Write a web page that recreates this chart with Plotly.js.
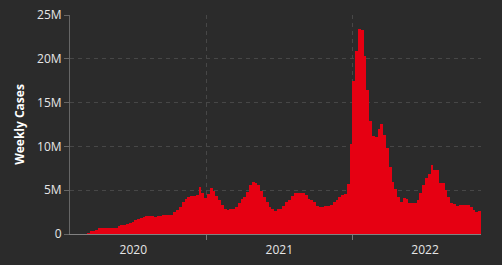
<!DOCTYPE html>
<html>
<head>
<meta charset="utf-8">
<script src="https://cdn.plot.ly/plotly-3.0.1.min.js"></script>
<style>
html,body{margin:0;padding:0;background:#2b2b2b;}
#chart{width:502px;height:265px;}
</style>
</head>
<body>
<div id="chart"></div>
<script>
// Weekly cases in millions, one value per week starting 2020-01-29
const firstWeek = "2020-01-29";
const weeklyCasesM = [
  0.01,0.02,0.03,0.02,0.05,0.05,0.1,0.3,0.3,0.5,
  0.7,0.72,0.72,0.72,0.72,0.72,0.73,0.87,0.98,1.0,
  1.1,1.3,1.38,1.55,1.7,1.8,1.93,2.0,2.0,2.0,
  1.93,2.0,2.08,2.15,2.15,2.2,2.2,2.55,2.7,3.1,
  3.7,4.0,4.25,4.35,4.3,4.45,5.35,4.7,4.1,4.6,
  5.2,4.9,4.35,3.85,3.3,2.85,2.7,2.85,2.85,3.1,
  3.5,4.0,4.25,4.8,5.55,5.95,5.8,5.6,4.95,4.25,
  3.6,3.1,2.8,2.65,2.8,2.8,3.25,3.7,3.9,4.35,
  4.65,4.7,4.7,4.7,4.5,4.0,3.85,3.65,3.25,3.1,
  3.05,3.15,3.25,3.35,3.65,3.9,4.2,4.45,4.6,5.75,
  10.3,17.5,20.9,23.4,23.3,20.35,16.45,12.9,11.2,11.05,
  12.0,12.6,11.3,9.85,7.7,5.95,5.15,4.25,3.7,4.15,
  4.0,3.5,3.5,3.55,3.9,4.7,5.6,6.4,6.9,7.9,
  7.35,7.35,5.85,5.85,5.05,4.25,3.55,3.45,3.2,3.35,
  3.35,3.35,3.35,3.1,2.75,2.55,2.65
];
const yTickVals = [0, 5e6, 10e6, 15e6, 20e6, 25e6];
const yTickText = ["0", "5M", "10M", "15M", "20M", "25M"];
const yTitle = "Weekly Cases";

const start = new Date(firstWeek + "T00:00:00Z").getTime();
const weeks = weeklyCasesM.map((_, i) => {
  const d = new Date(start + i * 7 * 86400000);
  return d.toISOString().slice(0, 10);
});

const trace = {
  type: "bar",
  x: weeks,
  y: weeklyCasesM.map(v => v * 1e6),
  marker: { color: "#e60012", line: { width: 0 } },
  hoverinfo: "x+y"
};

const fontFam = "'Open Sans', 'Segoe UI', sans-serif";
const layout = {
  width: 502,
  height: 265,
  margin: { l: 70, r: 21, t: 15, b: 31 },
  paper_bgcolor: "#2b2b2b",
  plot_bgcolor: "#2b2b2b",
  bargap: 0,
  showlegend: false,
  font: { family: fontFam, color: "#e6e6e6", size: 12 },
  xaxis: {
    type: "date",
    tick0: "2020-01-01",
    dtick: "M12",
    tickformat: "%Y",
    ticklabelmode: "period",
    showgrid: true,
    gridcolor: "#474747",
    griddash: "4px,4px",
    gridwidth: 1,
    ticks: "outside",
    ticklen: 5,
    tickcolor: "#777777",
    showline: true,
    linecolor: "rgba(200,200,200,0.55)",
    linewidth: 1,
    zeroline: false,
    tickfont: { family: fontFam, color: "#e6e6e6", size: 12 }
  },
  yaxis: {
    range: [0, 25e6],
    tickvals: yTickVals,
    ticktext: yTickText,
    showgrid: true,
    gridcolor: "#474747",
    griddash: "4px,4px",
    gridwidth: 1,
    ticks: "outside",
    ticklen: 5,
    tickcolor: "#666666",
    showline: true,
    linecolor: "#666666",
    linewidth: 1,
    zeroline: false,
    tickfont: { family: fontFam, color: "#e6e6e6", size: 12 },
    title: { text: yTitle, font: { family: fontFam, color: "#ffffff", size: 12, weight: "bold" }, standoff: 9 }
  }
};

Plotly.newPlot("chart", [trace], layout, { displayModeBar: false, staticPlot: true });
</script>
</body>
</html>
